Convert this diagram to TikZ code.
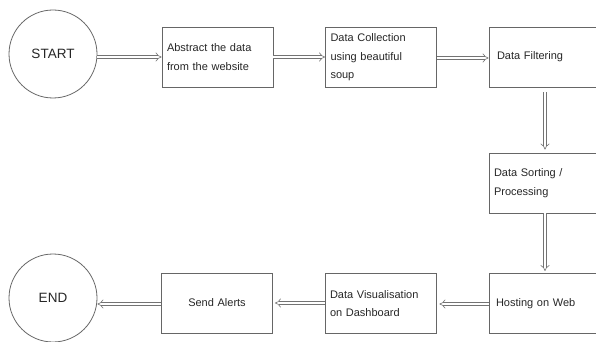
\documentclass[tikz,border=0pt]{standalone}
\usepackage{fontspec}
\setmainfont{Liberation Sans}
\usetikzlibrary{arrows.meta}
\begin{document}
\begin{tikzpicture}[x=1pt,y=1pt,
  every node/.style={font=\fontsize{11}{18.5}\selectfont, text=black!85},
  terminal/.style={circle, draw=black!60, line width=0.8pt, minimum size=88pt, inner sep=0pt},
  stepbox/.style={draw=black!60, line width=0.8pt, minimum width=111pt, minimum height=60pt,
    text width=101pt, inner xsep=5pt, align=left},
  flow/.style={draw=black!55, line width=0.6pt, double=white, double distance=2.6pt, -{Implies}}
]
\useasboundingbox (0,0) rectangle (596,-342);
% terminals
\node[terminal] (start) at (53,-54) {\fontsize{13.5}{15}\selectfont START};
\node[terminal] (end) at (53,-298) {\fontsize{13.5}{15}\selectfont END};
% process steps, top row left to right
\node[stepbox] (abstract) at (217.5,-57) {Abstract the data\\from the website};
\node[stepbox] (collect) at (381,-57.5) {Data Collection\\using beautiful\\soup};
\node[stepbox, text width=95pt, inner xsep=8pt] (filter) at (544.5,-57) {Data Filtering};
% right column
\node[stepbox] (sort) at (544.5,-183) {Data Sorting /\\Processing};
\node[stepbox, text width=97pt, inner xsep=7pt] (host) at (544.5,-303.5) {Hosting on Web};
% bottom row right to left
\node[stepbox] (visual) at (380.5,-303.5) {Data Visualisation\\on Dashboard};
\node[stepbox, align=center] (alerts) at (217,-303) {Send Alerts};
% connectors
\draw[flow] (start.east |- 0,-57) -- (abstract.west |- 0,-57);
\draw[flow] (abstract.east |- 0,-57) -- (collect.west |- 0,-57);
\draw[flow] (collect.east |- 0,-58) -- (filter.west |- 0,-58);
\draw[flow] ([yshift=-5pt]filter.south -| 545,0) -- ([yshift=3pt]sort.north -| 545,0);
\draw[flow] (sort.south -| 545,0) -- ([yshift=2pt]host.north -| 545,0);
\draw[flow] (host.west |- 0,-304) -- ([xshift=3pt]visual.east |- 0,-304);
\draw[flow] (visual.west |- 0,-303) -- ([xshift=2pt]alerts.east |- 0,-303);
\draw[flow] (alerts.west |- 0,-304) -- (end.east |- 0,-304);
\end{tikzpicture}
\end{document}
